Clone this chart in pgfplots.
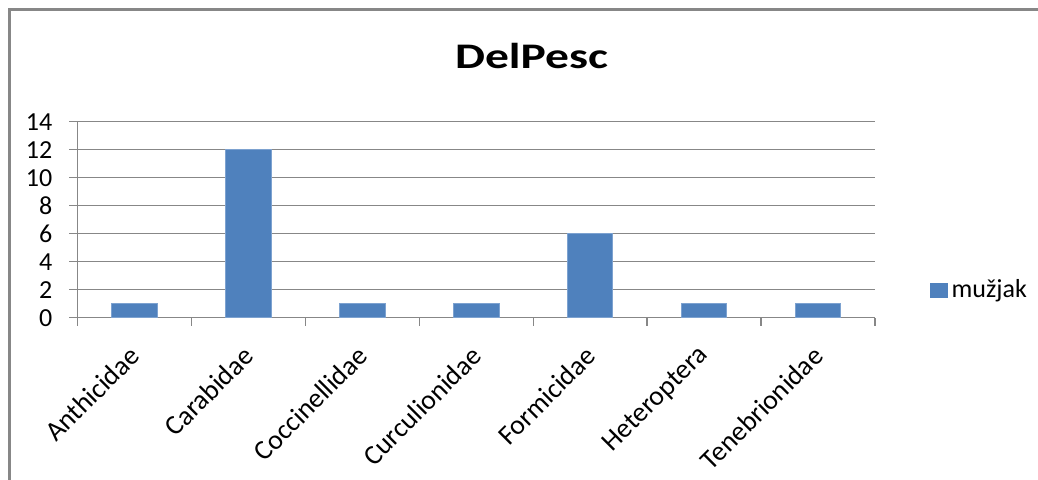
\documentclass[border=0pt]{standalone}
\usepackage{fontspec}
\setmainfont{Carlito}
\usepackage{pgfplots}
\pgfplotsset{compat=1.18}
\definecolor{barblue}{HTML}{4F81BD}
\definecolor{baredge}{HTML}{7DA2D0}
\definecolor{gridgray}{HTML}{878787}
\begin{document}
\begin{tikzpicture}[x=0.5pt,y=0.5pt]
\useasboundingbox (0,0) rectangle (1038,479);
\draw[line width=1.5pt, color=gridgray] (9,-10) -- (9,470) -- (1050,470);
\node at (531.5,423) {\scalebox{1.32}[1]{\fontsize{18}{18}\selectfont\bfseries DelPesc}};
\begin{axis}[
  at={(38.65pt,80.65pt)}, anchor=south west,
  scale only axis, width=398.85pt, height=98pt,
  xmin=-0.5, xmax=6.5, ymin=0, ymax=14,
  ytick={0,2,...,14},
  xtick={0,...,6},
  xticklabels={Anthicidae,Carabidae,Coccinellidae,Curculionidae,Formicidae,Heteroptera,Tenebrionidae},
  minor xtick={-0.5,0.5,...,6.5},
  major x tick style={draw=none},
  tick align=outside,
  major tick length=4pt, minor tick length=4pt,
  tick style={gridgray, line width=0.6pt},
  axis x line*=bottom, axis y line*=left,
  axis line style={gridgray, line width=0.6pt, -},
  ymajorgrids, grid style={gridgray, line width=0.6pt},
  /pgf/number format/assume math mode=true,
  tick label style={font=\fontsize{13}{13}\selectfont, black},
  yticklabel style={anchor=east, xshift=-5pt},
  xticklabel style={xshift=1pt, yshift=-12pt, rotate=45, anchor=east, inner sep=1pt, font=\fontsize{13.8}{14}\selectfont},
  ybar, bar width=22.85pt,
  legend style={at={(1.068,0.141)}, anchor=west, draw=none, fill=none,
    font=\fontsize{13}{13}\selectfont, inner sep=0pt},
  legend image code/.code={\fill[barblue] (0pt,-3.5pt) rectangle (8.5pt,3.5pt);},
]
\addplot[fill=barblue, draw=baredge, line width=0.5pt] coordinates {(0,1) (1,12) (2,1) (3,1) (4,6) (5,1) (6,1)};
\addlegendentry{mužjak}
\end{axis}
\end{tikzpicture}
\end{document}
